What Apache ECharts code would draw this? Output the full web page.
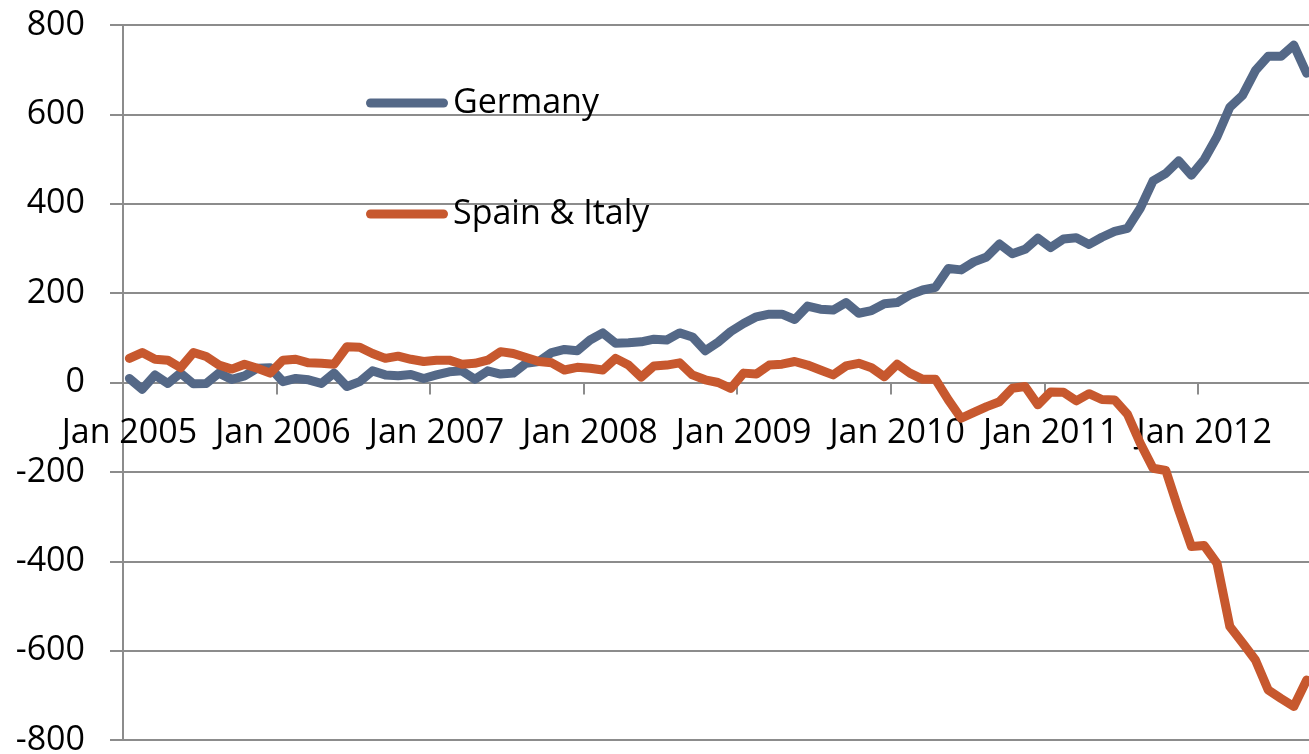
<!DOCTYPE html>
<html>
<head>
<meta charset="utf-8">
<script src="https://cdn.jsdelivr.net/npm/echarts@6/dist/echarts.min.js"></script>
<style>
html,body{margin:0;padding:0;background:#ffffff;}
#chart{width:1309px;height:754px;}
</style>
</head>
<body>
<div id="chart"></div>
<script>
// Monthly categories: Jan 2005 .. Sep 2012
const firstYear = 2005;
const monthCount = 93;
const monthNames = ['Jan','Feb','Mar','Apr','May','Jun','Jul','Aug','Sep','Oct','Nov','Dec'];
const categories = [];
for (let i = 0; i < monthCount; i++) {
  categories.push(monthNames[i % 12] + ' ' + (firstYear + Math.floor(i / 12)));
}

const yTicks = { min: -800, max: 800, interval: 200 };

const germany = [
  9, -15, 17, -2, 21, -3, -2, 21, 7, 15, 32, 33,
  2, 9, 6, -2, 21, -9, 2, 26, 17, 15, 18, 9,
  17, 24, 26, 7, 26, 19, 21, 43, 47, 67, 74, 71,
  95, 111, 88, 89, 91, 97, 95, 111, 102, 71, 90, 114,
  132, 147, 153, 153, 141, 171, 164, 162, 179, 155, 161, 176,
  179, 196, 207, 213, 255, 252, 270, 281, 310, 288, 298, 323,
  302, 321, 324, 309, 325, 338, 345, 390, 451, 468, 496, 464,
  499, 550, 616, 643, 698, 730, 730, 755, 692
];

const spainItaly = [
  54, 67, 52, 50, 33, 67, 58, 39, 30, 41, 32, 21,
  50, 52, 44, 43, 41, 80, 79, 65, 54, 59, 52, 47,
  50, 50, 41, 43, 50, 69, 65, 56, 47, 44, 28, 34,
  32, 28, 54, 39, 12, 37, 39, 44, 17, 6, 0, -13,
  21, 19, 39, 41, 47, 39, 28, 17, 37, 43, 33, 13,
  41, 21, 7, 7, -39, -80, -67, -54, -43, -13, -9, -50,
  -21, -22, -41, -25, -38, -39, -71, -136, -192, -197, -285, -367,
  -365, -405, -546, -583, -621, -688, -707, -725, -666
];

const seriesNames = ['Germany', 'Spain & Italy'];
const seriesColors = ['#546887', '#c7582e'];

const FONT = '"Open Sans", "Noto Sans", sans-serif';
const AXIS_GRAY = '#8c8c8c';

const GRID = { left: 123, right: -4, top: 25, bottom: 14 };
const plotHeight = 754 - GRID.top - GRID.bottom;
// distance from the bottom of the plot to the value 0 on the y scale
const zeroOffset = plotHeight * (0 - yTicks.min) / (yTicks.max - yTicks.min);

const chart = echarts.init(document.getElementById('chart'), null, { renderer: 'canvas' });

const isJan = function (index) { return index % 12 === 0; };

chart.setOption({
  animation: false,
  backgroundColor: '#ffffff',
  grid: {
    left: GRID.left, right: GRID.right, top: GRID.top, bottom: GRID.bottom,
    containLabel: false,
    outerBoundsMode: 'none'
  },
  legend: {
    orient: 'vertical',
    left: 366,
    top: 86,
    padding: 0,
    itemGap: 77,
    itemWidth: 82,
    itemHeight: 9,
    icon: 'path://M4.5,0 L77.5,0 A4.5,4.5 0 0 1 77.5,9 L4.5,9 A4.5,4.5 0 0 1 4.5,0 Z',
    textStyle: { fontFamily: FONT, fontSize: 34, color: '#000000', lineHeight: 34 },
    data: seriesNames
  },
  xAxis: {
    type: 'category',
    data: categories,
    boundaryGap: true,
    position: 'bottom',
    offset: -zeroOffset,
    axisLine: { show: true, onZero: false, lineStyle: { color: AXIS_GRAY, width: 2 } },
    axisTick: { show: true, length: 12, interval: isJan, lineStyle: { color: AXIS_GRAY, width: 2 } },
    axisLabel: {
      show: true,
      interval: isJan,
      hideOverlap: false,
      margin: 34,
      fontFamily: FONT, fontSize: 34, color: '#000000'
    },
    splitLine: { show: false }
  },
  yAxis: {
    type: 'value',
    min: yTicks.min, max: yTicks.max, interval: yTicks.interval,
    axisLine: { show: true, onZero: false, lineStyle: { color: AXIS_GRAY, width: 2 } },
    axisTick: { show: true, inside: false, length: 13, lineStyle: { color: AXIS_GRAY, width: 2 } },
    axisLabel: { margin: 38, fontFamily: FONT, fontSize: 34, color: '#000000' },
    splitLine: { show: true, lineStyle: { color: AXIS_GRAY, width: 2 } }
  },
  series: [
    {
      name: seriesNames[0], type: 'line', data: germany,
      symbol: 'none', color: seriesColors[0],
      lineStyle: { width: 9, color: seriesColors[0], cap: 'round', join: 'round' }
    },
    {
      name: seriesNames[1], type: 'line', data: spainItaly,
      symbol: 'none', color: seriesColors[1],
      lineStyle: { width: 9, color: seriesColors[1], cap: 'round', join: 'round' }
    }
  ]
});
</script>
</body>
</html>
